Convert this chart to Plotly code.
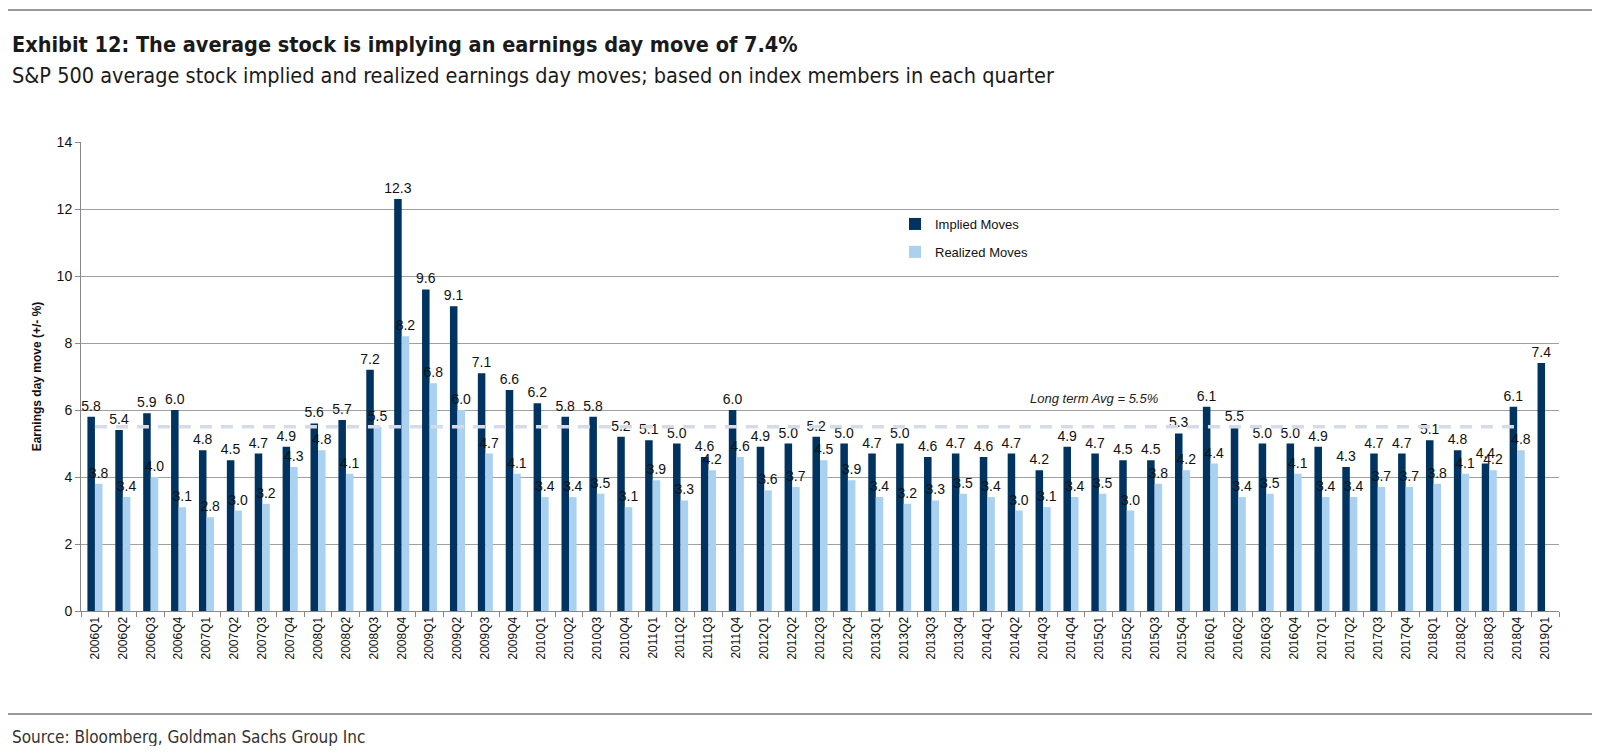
import plotly.graph_objects as go

quarters = [f"{y}Q{q}" for y in range(2006, 2019) for q in range(1, 5)] + ["2019Q1"]

implied = [5.8, 5.4, 5.9, 6.0,
           4.8, 4.5, 4.7, 4.9,
           5.6, 5.7, 7.2, 12.3,
           9.6, 9.1, 7.1, 6.6,
           6.2, 5.8, 5.8, 5.2,
           5.1, 5.0, 4.6, 6.0,
           4.9, 5.0, 5.2, 5.0,
           4.7, 5.0, 4.6, 4.7,
           4.6, 4.7, 4.2, 4.9,
           4.7, 4.5, 4.5, 5.3,
           6.1, 5.5, 5.0, 5.0,
           4.9, 4.3, 4.7, 4.7,
           5.1, 4.8, 4.4, 6.1,
           7.4]

realized = [3.8, 3.4, 4.0, 3.1,
            2.8, 3.0, 3.2, 4.3,
            4.8, 4.1, 5.5, 8.2,
            6.8, 6.0, 4.7, 4.1,
            3.4, 3.4, 3.5, 3.1,
            3.9, 3.3, 4.2, 4.6,
            3.6, 3.7, 4.5, 3.9,
            3.4, 3.2, 3.3, 3.5,
            3.4, 3.0, 3.1, 3.4,
            3.5, 3.0, 3.8, 4.2,
            4.4, 3.4, 3.5, 4.1,
            3.4, 3.4, 3.7, 3.7,
            3.8, 4.1, 4.2, 4.8]

long_term_avg = 5.5
y_ticks = [0, 2, 4, 6, 8, 10, 12, 14]

NAVY = "#00335F"
LIGHT = "#AAD1F0"
FONT = "Liberation Sans, Arial, sans-serif"
NARROW = "Liberation Sans Narrow, Arial Narrow, DejaVu Sans Condensed, sans-serif"

# page has an 8px body margin; work in page pixel coordinates and shift
OFF = 8
W, H = 1600 - 2 * OFF, 754 - 2 * OFF
PL, PR, PT, PB = 81, 1559, 142, 611          # plot area in page pixels
L, T = PL - OFF, PT - OFF
R = W - (PR - OFF)
B = H - (PB - OFF)
pw, ph = W - L - R, H - T - B


def px(x):
    return (x - OFF - L) / pw


def py(y):
    return (H - B - (y - OFF)) / ph


fig = go.Figure()
fig.add_trace(go.Bar(
    x=quarters, y=implied, name="Implied Moves", marker_color=NAVY,
    marker_line_width=0, texttemplate="%{y:.1f}", textposition="outside",
    textfont=dict(size=14, color="#111", family=FONT), constraintext="none",
    cliponaxis=False, legendgroup="a"))
fig.add_trace(go.Bar(
    x=quarters[:len(realized)], y=realized, name="Realized Moves", marker_color=LIGHT,
    marker_line_width=0, texttemplate="%{y:.1f}", textposition="outside",
    textfont=dict(size=14, color="#111", family=FONT), constraintext="none",
    cliponaxis=False, legendgroup="b"))
fig.add_trace(go.Scatter(
    x=quarters[:len(realized)], y=[long_term_avg] * len(realized), mode="lines",
    line=dict(color="#D5DBE8", width=3.5, dash="12px,9px"), showlegend=False,
    hoverinfo="skip"))

fig.update_layout(
    width=W, height=H, margin=dict(l=L, r=R, t=T, b=B),
    paper_bgcolor="white", plot_bgcolor="white",
    barmode="group", bargap=0.46, bargroupgap=0,
    font=dict(family=FONT, color="#111"),
    legend=dict(x=px(895), y=py(209), xanchor="left", yanchor="top",
                font=dict(size=13, family=FONT), bgcolor="rgba(0,0,0,0)",
                tracegroupgap=8, itemwidth=30),
    xaxis=dict(type="category", tickangle=-90, tickfont=dict(size=12, family=FONT),
               ticks="outside", tickson="boundaries", ticklen=5, tickcolor="#888",
               showline=True, linecolor="#888", linewidth=1, showgrid=False,
               range=[-0.5, len(quarters) - 0.5]),
    yaxis=dict(range=[0, 14], tickvals=y_ticks, tickfont=dict(size=14, family=FONT),
               showgrid=True, gridcolor="#A0A0A0", gridwidth=1,
               showline=True, linecolor="#888", linewidth=1,
               ticks="outside", ticklen=5, tickcolor="#888", zeroline=False,
               title=dict(text="<b>Earnings day move (+/- %)</b>",
                          font=dict(size=12, family=FONT), standoff=12)),
)

anns = [
    dict(text="<b>Exhibit 12: The average stock is implying an earnings day move of 7.4%</b>",
         x=px(10), y=py(44), font=dict(size=21.5, family=NARROW, color="#1a1a1a")),
    dict(text="S&P 500 average stock implied and realized earnings day moves; based on index members in each quarter",
         x=px(10), y=py(75), font=dict(size=21.5, family=NARROW, color="#1a1a1a")),
    dict(text="Source: Bloomberg, Goldman Sachs Group Inc",
         x=px(10), y=py(737), font=dict(size=17, family=NARROW, color="#333")),
    dict(text="<i>Long term Avg = 5.5%</i>",
         x=px(1028), y=py(398), font=dict(size=13, family=FONT, color="#222")),
]
for a in anns:
    fig.add_annotation(xref="paper", yref="paper", xanchor="left", yanchor="middle",
                       showarrow=False, **a)

fig.add_shape(type="line", xref="paper", yref="paper", x0=px(0), x1=px(1600),
              y0=py(10), y1=py(10), line=dict(color="#999", width=2))
fig.add_shape(type="line", xref="paper", yref="paper", x0=px(0), x1=px(1600),
              y0=py(714), y1=py(714), line=dict(color="#999", width=2))

fig.write_html("out.html")
